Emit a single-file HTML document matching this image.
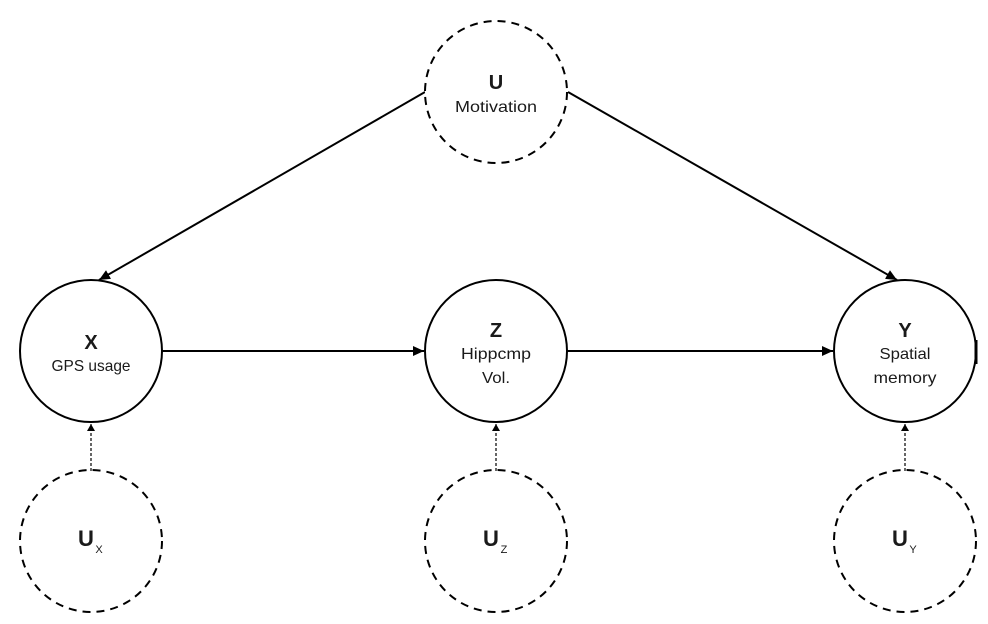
<!DOCTYPE html>
<html>
<head>
<meta charset="utf-8">
<style>
  html, body { margin:0; padding:0; background:#fff; }
  svg { display:block; }
  text { font-family: "Liberation Sans", "DejaVu Sans", sans-serif; fill:#1a1a1a; }
  .b { font-weight:bold; font-size:20px; }
  .bs { font-weight:bold; font-size:22px; }
  .l { font-size:16px; }
</style>
</head>
<body>
<svg width="988" height="624" viewBox="0 0 988 624" xmlns="http://www.w3.org/2000/svg">
  <defs>
    <marker id="ah" markerUnits="userSpaceOnUse" markerWidth="12" markerHeight="10" refX="11" refY="5" orient="auto">
      <path d="M0,0 L11,5 L0,10 z" fill="#000"/>
    </marker>
    <marker id="sh" markerUnits="userSpaceOnUse" markerWidth="8" markerHeight="8" refX="7" refY="4" orient="auto">
      <path d="M0,0 L7,4 L0,8 z" fill="#000"/>
    </marker>
  </defs>

  <!-- solid edges -->
  <line x1="425" y1="92" x2="99" y2="280" stroke="#000" stroke-width="2" marker-end="url(#ah)"/>
  <line x1="568" y1="92" x2="897" y2="280" stroke="#000" stroke-width="2" marker-end="url(#ah)"/>
  <line x1="162" y1="351" x2="424" y2="351" stroke="#000" stroke-width="2" marker-end="url(#ah)"/>
  <line x1="567" y1="351" x2="833" y2="351" stroke="#000" stroke-width="2" marker-end="url(#ah)"/>

  <!-- dotted edges -->
  <line x1="91" y1="471" x2="91" y2="424" stroke="#000" stroke-width="1.2" stroke-dasharray="3,2" marker-end="url(#sh)"/>
  <line x1="496" y1="471" x2="496" y2="424" stroke="#000" stroke-width="1.2" stroke-dasharray="3,2" marker-end="url(#sh)"/>
  <line x1="905" y1="471" x2="905" y2="424" stroke="#000" stroke-width="1.2" stroke-dasharray="3,2" marker-end="url(#sh)"/>

  <!-- top U -->
  <circle cx="496" cy="92" r="71" fill="#fff" stroke="#000" stroke-width="2" stroke-dasharray="8,6"/>
  <text x="496" y="89" text-anchor="middle" class="b">U</text>
  <text x="496" y="112" text-anchor="middle" class="l" textLength="82" lengthAdjust="spacingAndGlyphs">Motivation</text>

  <!-- X -->
  <circle cx="91" cy="351" r="71" fill="#fff" stroke="#000" stroke-width="2"/>
  <text x="91" y="349" text-anchor="middle" class="b">X</text>
  <text x="91" y="371" text-anchor="middle" class="l" textLength="79" lengthAdjust="spacingAndGlyphs">GPS usage</text>

  <!-- Z -->
  <circle cx="496" cy="351" r="71" fill="#fff" stroke="#000" stroke-width="2"/>
  <text x="496" y="337" text-anchor="middle" class="b">Z</text>
  <text x="496" y="359" text-anchor="middle" class="l" textLength="70" lengthAdjust="spacingAndGlyphs">Hippcmp</text>
  <text x="496" y="383" text-anchor="middle" class="l" textLength="28" lengthAdjust="spacingAndGlyphs">Vol.</text>

  <!-- Y -->
  <circle cx="905" cy="351" r="71" fill="#fff" stroke="#000" stroke-width="2"/>
  <line x1="976" y1="340" x2="976" y2="364" stroke="#000" stroke-width="3"/>
  <text x="905" y="337" text-anchor="middle" class="b">Y</text>
  <text x="905" y="359" text-anchor="middle" class="l" textLength="51" lengthAdjust="spacingAndGlyphs">Spatial</text>
  <text x="905" y="383" text-anchor="middle" class="l" textLength="63" lengthAdjust="spacingAndGlyphs">memory</text>

  <!-- Ux -->
  <circle cx="91" cy="541" r="71" fill="none" stroke="#000" stroke-width="2" stroke-dasharray="8,6"/>
  <text x="86" y="546" text-anchor="middle" class="bs">U</text>
  <text x="99" y="553" text-anchor="middle" style="font-size:11px">X</text>

  <!-- Uz -->
  <circle cx="496" cy="541" r="71" fill="none" stroke="#000" stroke-width="2" stroke-dasharray="8,6"/>
  <text x="491" y="546" text-anchor="middle" class="bs">U</text>
  <text x="504" y="553" text-anchor="middle" style="font-size:11px">Z</text>

  <!-- Uy -->
  <circle cx="905" cy="541" r="71" fill="none" stroke="#000" stroke-width="2" stroke-dasharray="8,6"/>
  <text x="900" y="546" text-anchor="middle" class="bs">U</text>
  <text x="913" y="553" text-anchor="middle" style="font-size:11px">Y</text>
</svg>
</body>
</html>
